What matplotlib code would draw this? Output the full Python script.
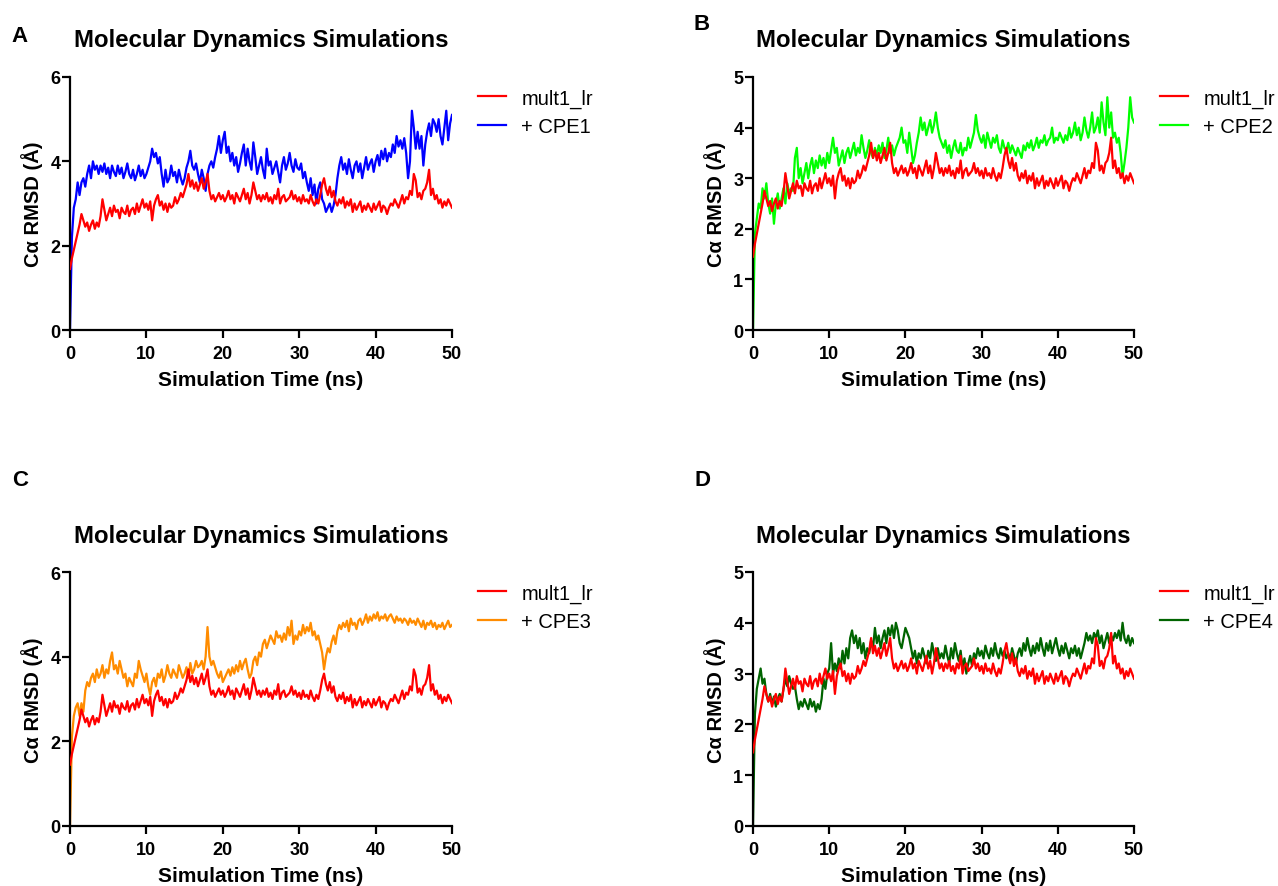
import numpy as np
import matplotlib
matplotlib.use('Agg')
import matplotlib.pyplot as plt

plt.rcParams['font.family'] = ['Liberation Sans', 'DejaVu Sans']

# time axis, 0.25 ns steps
time_ns = np.arange(0, 201) * 0.25

# mult1_lr (reference trace, same in all panels)
mult1_lr = [
    1.45, 1.7, 1.9, 2.1, 2.3, 2.5, 2.75, 2.6, 2.45, 2.55, 2.35, 2.5, 2.6, 2.4, 2.55, 2.45, 2.7, 3.1, 2.85, 2.6,
    2.75, 2.9, 2.7, 2.95, 2.8, 2.85, 2.65, 2.9, 2.8, 2.75, 2.95, 2.7, 2.85, 2.9, 2.75, 3.0, 2.8, 2.95, 3.1, 2.9,
    3.0, 2.85, 3.05, 2.6, 2.95, 3.1, 3.2, 2.95, 3.05, 2.85, 3.0, 2.8, 3.0, 2.9, 2.95, 3.15, 3.0, 3.1, 3.25, 3.15,
    3.3, 3.45, 3.7, 3.4, 3.55, 3.35, 3.5, 3.3, 3.45, 3.6, 3.35, 3.5, 3.7, 3.3, 3.1, 3.2, 3.05, 3.15, 3.25, 3.1,
    3.2, 3.05, 3.15, 3.3, 3.1, 3.2, 3.0, 3.25, 3.15, 3.05, 3.2, 3.35, 3.1, 3.25, 3.0, 3.2, 3.5, 3.3, 3.1, 3.2,
    3.05, 3.2, 3.1, 3.25, 3.05, 3.15, 3.0, 3.2, 3.1, 3.35, 3.0, 3.15, 3.2, 3.05, 3.1, 3.15, 3.3, 3.1, 3.2, 3.05,
    3.15, 3.0, 3.2, 3.05, 3.1, 3.0, 3.2, 3.05, 2.95, 3.1, 3.0, 3.2, 3.45, 3.6, 3.35, 3.2, 3.4, 3.15, 3.3, 3.05,
    2.95, 3.1, 3.0, 3.15, 2.9, 3.05, 2.95, 3.1, 2.8, 3.0, 2.85, 2.95, 3.05, 2.8, 2.95, 2.85, 3.0, 2.9, 2.8, 3.0,
    2.85, 2.95, 3.05, 2.8, 2.95, 2.9, 2.75, 2.9, 3.0, 2.95, 3.1, 3.0, 2.9, 3.05, 3.2, 3.0, 3.15, 3.1, 3.3, 3.2,
    3.7, 3.55, 3.15, 3.25, 3.1, 3.3, 3.35, 3.5, 3.8, 3.2, 3.35, 3.1, 3.2, 3.0, 3.1, 2.9, 3.05, 2.95, 3.1, 3.0,
    2.9,
]

cpe1 = [
    0.0, 2.2, 2.9, 3.1, 3.5, 3.2, 3.5, 3.6, 3.4, 3.7, 3.9, 3.6, 4.0, 3.8, 3.9, 3.7, 3.9, 3.75, 3.95, 3.7,
    3.85, 3.6, 3.9, 3.75, 3.65, 3.9, 3.7, 3.85, 3.6, 3.75, 3.95, 3.7, 3.6, 3.8, 3.55, 3.7, 3.9, 3.65, 3.8, 3.6,
    3.7, 3.85, 4.0, 4.3, 4.1, 4.2, 3.95, 4.1, 3.7, 3.4, 3.8, 3.5, 3.6, 3.9, 3.65, 3.75, 3.5, 3.8, 3.6, 3.45,
    3.6, 3.85, 4.0, 4.25, 3.9, 3.8, 3.95, 3.7, 3.5, 3.8, 3.6, 3.3, 3.7, 3.9, 4.0, 3.85, 4.1, 4.3, 4.6, 4.2,
    4.5, 4.7, 4.2, 4.35, 4.0, 4.2, 3.9, 4.1, 3.75, 3.95, 4.2, 4.4, 3.9, 4.3, 4.0, 3.8, 4.45, 4.1, 3.7, 3.9,
    4.1, 3.8, 3.6, 4.3, 3.9, 4.0, 3.7, 3.85, 4.0, 3.75, 3.5, 3.9, 4.1, 3.8, 3.95, 4.2, 3.9, 3.75, 4.05, 3.85,
    3.8, 3.95, 3.6, 3.75, 3.5, 3.3, 3.6, 3.2, 3.45, 3.0, 3.35, 3.5, 3.1, 3.0, 2.8, 2.9, 3.0, 2.8, 2.95, 3.2,
    3.6, 3.9, 4.1, 3.8, 3.95, 3.7, 4.05, 3.8, 3.6, 3.9, 4.0, 3.75, 3.95, 3.6, 3.85, 4.1, 3.8, 3.95, 4.05, 3.75,
    4.0, 4.15, 3.9, 4.25, 4.05, 4.3, 4.0, 4.2, 4.1, 4.4, 4.2, 4.6, 4.35, 4.5, 4.3, 4.55, 4.2, 3.6, 4.0, 5.2,
    4.8, 4.3, 4.7, 4.3, 4.6, 3.9, 4.4, 4.7, 4.9, 4.6, 5.0, 4.9, 4.7, 5.0, 4.6, 4.4, 4.8, 5.2, 4.5, 4.9,
    5.1,
]

cpe2 = [
    0.0, 1.9, 2.2, 2.5, 2.4, 2.8, 2.6, 2.9, 2.5, 2.3, 2.6, 2.1, 2.5, 2.7, 2.4, 2.6, 2.8, 2.5, 2.9, 2.7,
    2.8, 2.75, 3.4, 3.6, 3.0, 3.2, 2.9, 3.1, 3.3, 3.0, 3.25, 3.4, 3.1, 3.35, 3.2, 3.45, 3.25, 3.4, 3.2, 3.5,
    3.3, 3.55, 3.8, 3.5, 3.6, 3.25, 3.4, 3.55, 3.3, 3.5, 3.6, 3.4, 3.55, 3.7, 3.45, 3.6, 3.5, 3.85, 3.6, 3.4,
    3.55, 3.75, 3.5, 3.4, 3.6, 3.45, 3.65, 3.5, 3.7, 3.4, 3.55, 3.8, 3.5, 3.65, 3.45, 3.6, 3.7, 3.8, 4.0, 3.7,
    3.75, 3.5, 3.9, 3.6, 3.3, 3.45, 3.7, 3.9, 4.2, 3.95, 4.1, 3.85, 4.0, 4.15, 3.9, 4.05, 4.3, 4.0, 3.8, 3.7,
    3.6, 3.75, 3.5, 3.65, 3.4, 3.6, 3.75, 3.55, 3.5, 3.7, 3.45, 3.6, 3.55, 3.8, 3.6, 3.75, 3.9, 4.25, 3.95, 3.8,
    3.7, 3.85, 3.6, 3.9, 3.75, 3.6, 3.8, 3.7, 3.85, 3.6, 3.5, 3.75, 3.6, 3.55, 3.7, 3.5, 3.65, 3.55, 3.45, 3.6,
    3.5, 3.4, 3.65, 3.55, 3.7, 3.6, 3.75, 3.55, 3.65, 3.8, 3.6, 3.75, 3.7, 3.85, 3.65, 3.75, 3.8, 4.0, 3.7, 3.8,
    3.75, 3.9, 3.8, 3.7, 3.85, 3.75, 4.0, 3.8, 3.9, 4.1, 3.85, 4.0, 3.75, 3.9, 4.2, 3.95, 3.8, 4.0, 4.3, 3.9,
    4.0, 4.2, 3.9, 4.5, 4.1, 3.85, 4.6, 4.0, 4.3, 3.8, 3.9, 3.7, 3.8, 3.5, 3.05, 3.3, 3.6, 4.0, 4.6, 4.2,
    4.1,
]

cpe3 = [
    0.0, 2.1, 2.6, 2.8, 2.9, 2.6, 2.9, 2.7, 3.2, 3.4, 3.3, 3.5, 3.6, 3.4, 3.7, 3.5, 3.6, 3.8, 3.5, 3.7,
    3.6, 3.9, 4.1, 3.7, 3.8, 3.6, 3.9, 3.7, 3.5, 3.6, 3.3, 3.5, 3.4, 3.3, 3.6, 3.5, 3.9, 3.7, 3.55, 3.4,
    3.6, 3.3, 3.1, 3.4, 3.5, 3.3, 3.6, 3.5, 3.7, 3.4, 3.55, 3.8, 3.6, 3.5, 3.7, 3.6, 3.5, 3.8, 3.65, 3.5,
    3.6, 3.75, 3.5, 3.85, 3.6, 3.7, 3.9, 3.75, 3.8, 3.9, 3.7, 4.0, 4.7, 4.0, 3.8, 3.9, 3.75, 3.6, 3.5, 3.65,
    3.4, 3.5, 3.6, 3.7, 3.55, 3.75, 3.6, 3.8, 3.65, 3.9, 3.7, 3.85, 3.95, 3.7, 3.5, 3.6, 3.9, 4.0, 3.8, 4.1,
    4.0, 4.3, 4.4, 4.2, 4.35, 4.5, 4.4, 4.3, 4.6, 4.45, 4.5, 4.35, 4.55, 4.4, 4.7, 4.5, 4.85, 4.3, 4.5, 4.4,
    4.6, 4.5, 4.75, 4.55, 4.7, 4.6, 4.8, 4.5, 4.6, 4.4, 4.5, 4.3, 4.1, 3.7, 4.0, 4.2, 4.1, 4.35, 4.5, 4.3,
    4.6, 4.75, 4.65, 4.8, 4.7, 4.85, 4.6, 4.9, 4.75, 4.8, 4.65, 4.85, 4.9, 4.75, 4.85, 5.0, 4.8, 4.95, 4.85, 5.0,
    4.9, 5.05, 4.85, 4.95, 4.9, 5.0, 4.85, 4.95, 5.0, 4.9, 4.8, 4.95, 4.85, 4.9, 4.8, 4.9, 4.85, 4.75, 4.9, 4.8,
    4.85, 4.75, 4.9, 4.8, 4.7, 4.85, 4.65, 4.8, 4.75, 4.85, 4.7, 4.8, 4.65, 4.75, 4.7, 4.8, 4.65, 4.75, 4.85, 4.7,
    4.75,
]

cpe4 = [
    0.0, 2.2, 2.7, 2.9, 3.1, 2.8, 2.9, 2.6, 2.45, 2.6, 2.4, 2.55, 2.35, 2.5, 2.6, 2.45, 2.7, 2.9, 2.75, 2.95,
    2.8, 2.7, 2.75, 2.5, 2.3, 2.45, 2.35, 2.5, 2.4, 2.3, 2.5, 2.35, 2.45, 2.25, 2.4, 2.3, 2.5, 2.9, 2.7, 3.0,
    3.1, 3.6, 3.0, 3.2, 3.05, 3.3, 3.1, 3.45, 3.2, 3.5, 3.3, 3.7, 3.85, 3.6, 3.75, 3.5, 3.7, 3.4, 3.6, 3.3,
    3.5, 3.4, 3.65, 3.5, 3.9, 3.6, 3.75, 3.5, 3.7, 3.85, 3.6, 3.9, 3.75, 3.95, 3.7, 4.0, 3.85, 3.6, 3.5, 3.7,
    3.9, 3.8, 3.7, 3.5, 3.3, 3.45, 3.2, 3.4, 3.3, 3.5, 3.35, 3.2, 3.45, 3.3, 3.6, 3.4, 3.25, 3.5, 3.3, 3.4,
    3.3, 3.55, 3.35, 3.2, 3.5, 3.3, 3.6, 3.4, 3.25, 3.45, 3.1, 3.3, 3.0, 3.2, 3.35, 3.15, 3.4, 3.3, 3.5, 3.35,
    3.45, 3.3, 3.55, 3.4, 3.3, 3.5, 3.35, 3.6, 3.4, 3.3, 3.5, 3.35, 3.45, 3.3, 3.4, 3.25, 3.5, 3.35, 3.2, 3.4,
    3.5, 3.35, 3.6, 3.45, 3.7, 3.5, 3.35, 3.55, 3.4, 3.6, 3.45, 3.7, 3.5, 3.35, 3.6, 3.45, 3.65, 3.4, 3.55, 3.7,
    3.5, 3.35, 3.55, 3.4, 3.6, 3.45, 3.3, 3.5, 3.4, 3.55, 3.35, 3.5, 3.3, 3.45, 3.6, 3.8, 3.65, 3.75, 3.6, 3.8,
    3.7, 3.85, 3.6, 3.75, 3.5, 3.65, 3.8, 3.6, 3.75, 3.65, 3.8, 3.7, 3.85, 3.65, 4.0, 3.7, 3.6, 3.75, 3.55, 3.7,
    3.6,
]

panel_letters = ['A', 'B', 'C', 'D']
cpe_labels = ['+ CPE1', '+ CPE2', '+ CPE3', '+ CPE4']
cpe_series = [cpe1, cpe2, cpe3, cpe4]
cpe_colors = ['#0000FF', '#00FF00', '#FF8C00', '#006400']
y_max = [6, 5, 6, 5]
y_step = [2, 1, 2, 1]

W, H = 1278, 887
fig = plt.figure(figsize=(W / 100, H / 100), dpi=100)

# axes boxes in pixels: left, right, top, bottom
boxes = [(70, 452, 78, 331), (753, 1134, 78, 331),
         (70, 452, 573, 827), (753, 1134, 573, 827)]
letter_pos = [(20, 36), (702, 25), (20, 481), (703, 481)]
title_y = [41, 41, 537, 537]

for i in range(4):
    l, r, t, b = boxes[i]
    ax = fig.add_axes([l / W, 1 - b / H, (r - l) / W, (b - t) / H])
    ax.plot(time_ns, cpe_series[i], color=cpe_colors[i], lw=1.6, label=cpe_labels[i], zorder=2)
    ax.plot(time_ns, mult1_lr, color='#FF0000', lw=1.6, label='mult1_lr', zorder=3)

    ax.set_xlim(0, 50)
    ax.set_ylim(0, y_max[i])
    ax.set_xticks(range(0, 51, 10))
    ax.set_yticks(range(0, y_max[i] + 1, y_step[i]))
    for s in ['top', 'right']:
        ax.spines[s].set_visible(False)
    for s in ['left', 'bottom']:
        ax.spines[s].set_linewidth(1.6)
    ax.tick_params(direction='out', length=5.5, width=1.6, labelsize=13)
    ax.tick_params(axis='x', pad=5)
    ax.tick_params(axis='y', pad=1.5)
    for lab in ax.get_xticklabels() + ax.get_yticklabels():
        lab.set_fontweight('bold')
    ax.set_xlabel('Simulation Time (ns)', fontsize=15, fontweight='bold', labelpad=6)
    ax.set_ylabel('Cα RMSD (Å)', fontsize=14.5, fontweight='bold', labelpad=5)

    h, lb = ax.get_legend_handles_labels()
    ax.legend(h[::-1], lb[::-1], loc='upper left', bbox_to_anchor=(1.068, 0.955),
              frameon=False, fontsize=14.5, handlelength=1.4, handletextpad=0.75,
              labelspacing=0.45, borderpad=0, borderaxespad=0)

    fig.text((l + r) / 2 / W, 1 - title_y[i] / H, 'Molecular Dynamics Simulations',
             ha='center', va='center', fontsize=17.3, fontweight='bold')
    fig.text(letter_pos[i][0] / W, 1 - letter_pos[i][1] / H, panel_letters[i],
             ha='center', va='center', fontsize=16, fontweight='bold')

fig.savefig('out.png', dpi=100)
